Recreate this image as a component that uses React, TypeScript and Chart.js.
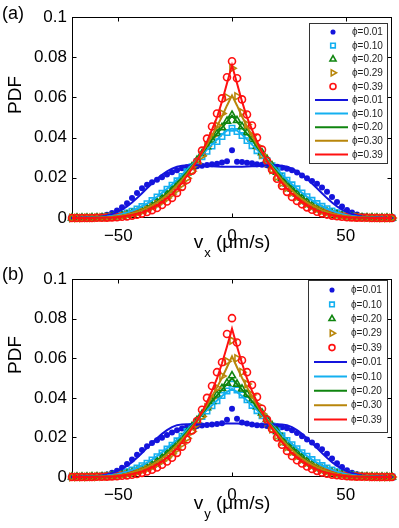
import React, { useEffect, useRef } from 'react';
import { Chart, registerables } from 'chart.js';
import { drawPoint } from 'chart.js/helpers';

Chart.register(...registerables);

// velocity bins (µm/s)
const velocityBins = [
  -70.4, -68.2, -66, -63.8, -61.6, -59.4, -57.2, -55, -52.8, -50.6, -48.4, -46.2, -44, -41.8, -39.6, -37.4,
  -35.2, -33, -30.8, -28.6, -26.4, -24.2, -22, -19.8, -17.6, -15.4, -13.2, -11, -8.8, -6.6, -4.4, -2.2,
  0,
  2.2, 4.4, 6.6, 8.8, 11, 13.2, 15.4, 17.6, 19.8, 22, 24.2, 26.4, 28.6, 30.8, 33,
  35.2, 37.4, 39.6, 41.8, 44, 46.2, 48.4, 50.6, 52.8, 55, 57.2, 59.4, 61.6, 63.8, 66, 68.2, 70.4,
];

const xTickValues = [-50, 0, 50];
const xTickLabels = ['\u221250', '0', '50'];
const yTickValues = [0, 0.02, 0.04, 0.06, 0.08, 0.1];
const yTickLabels = ['0', '0.02', '0.04', '0.06', '0.08', '0.1'];

const pointLegend = ['\u03d5=0.01', '\u03d5=0.10', '\u03d5=0.20', '\u03d5=0.29', '\u03d5=0.39'];
const fitLegend = ['\u03d5=0.01', '\u03d5=0.10', '\u03d5=0.20', '\u03d5=0.30', '\u03d5=0.39'];

const seriesColors = ['#1414dc', '#14b0f0', '#0f850f', '#b8860b', '#ff1010'];
const markerStyles = ['circle', 'rect', 'triangle', 'triangle', 'circle'];
const markerRotations = [0, 0, 0, 90, 0];
const markerRadii = [3, 3.8, 4.1, 4.1, 3.5];
const markerFilled = [true, false, false, false, false];

// ---------- panel (a): v_x ----------
const vxPhi001 = [
  0, 0, 0.0001, 0.0002, 0.0003, 0.0006, 0.001, 0.0016,
  0.0025, 0.0037, 0.0053, 0.0074, 0.0099, 0.0125, 0.0148, 0.0166,
  0.0178, 0.019, 0.0203, 0.0216, 0.0228, 0.0238, 0.0248, 0.0253,
  0.0255, 0.0257, 0.026, 0.0264, 0.0268, 0.027, 0.0276, 0.0282,
  0.0337,
  0.028, 0.0278, 0.0275, 0.0272, 0.0268, 0.0265, 0.0262, 0.0258,
  0.0255, 0.025, 0.0245, 0.0237, 0.0226, 0.0212, 0.0198, 0.0184,
  0.017, 0.0152, 0.013, 0.0104, 0.0079, 0.0057, 0.004, 0.0027,
  0.0017, 0.001, 0.0006, 0.0003, 0.0002, 0.0001, 0, 0,
];
const vxPhi010 = [
  0, 0, 0, 0.0001, 0.0001, 0.0002, 0.0003, 0.0005,
  0.0008, 0.0012, 0.0018, 0.0025, 0.0034, 0.0045, 0.0057, 0.0071,
  0.0087, 0.0105, 0.0123, 0.0143, 0.0163, 0.0185, 0.0207, 0.023,
  0.0255, 0.028, 0.0305, 0.0332, 0.0358, 0.038, 0.0405, 0.0425,
  0.0447,
  0.043, 0.041, 0.0385, 0.036, 0.0335, 0.031, 0.0285, 0.026,
  0.0235, 0.021, 0.0188, 0.0165, 0.0145, 0.0125, 0.0106, 0.0088,
  0.0072, 0.0058, 0.0046, 0.0035, 0.0026, 0.0019, 0.0013, 0.0009,
  0.0006, 0.0004, 0.0002, 0.0001, 0.0001, 0, 0, 0,
];
const vxPhi020 = [
  0, 0, 0, 0, 0.0001, 0.0001, 0.0002, 0.0003,
  0.0005, 0.0007, 0.0011, 0.0015, 0.0021, 0.0028, 0.0037, 0.0048,
  0.0062, 0.0078, 0.0096, 0.0117, 0.014, 0.0166, 0.0194, 0.0224,
  0.0255, 0.0287, 0.032, 0.0355, 0.0388, 0.042, 0.045, 0.0482,
  0.0512,
  0.0485, 0.0455, 0.0425, 0.0392, 0.0358, 0.0325, 0.0292, 0.026,
  0.0228, 0.0198, 0.017, 0.0144, 0.012, 0.0099, 0.008, 0.0064,
  0.005, 0.0039, 0.003, 0.0022, 0.0016, 0.0011, 0.0008, 0.0005,
  0.0003, 0.0002, 0.0001, 0.0001, 0, 0, 0, 0,
];
const vxPhi029 = [
  0, 0, 0, 0.0001, 0.0001, 0.0002, 0.0003, 0.0004,
  0.0005, 0.0007, 0.001, 0.0014, 0.0019, 0.0025, 0.0033, 0.0043,
  0.0054, 0.0067, 0.0082, 0.0099, 0.0119, 0.0142, 0.0168, 0.0198,
  0.0233, 0.027, 0.031, 0.0355, 0.0405, 0.046, 0.052, 0.06,
  0.0745,
  0.0605, 0.0525, 0.0465, 0.041, 0.036, 0.0315, 0.0275, 0.024,
  0.0205, 0.0175, 0.015, 0.0126, 0.0105, 0.0087, 0.0071, 0.0057,
  0.0045, 0.0035, 0.0027, 0.002, 0.0015, 0.0011, 0.0008, 0.0005,
  0.0004, 0.0003, 0.0002, 0.0001, 0.0001, 0, 0, 0,
];
const vxPhi039 = [
  0, 0, 0, 0, 0, 0.0001, 0.0001, 0.0002,
  0.0003, 0.0004, 0.0006, 0.0008, 0.0012, 0.0016, 0.0022, 0.003,
  0.0039, 0.005, 0.0065, 0.0082, 0.01, 0.0125, 0.0155, 0.019,
  0.0235, 0.028, 0.0335, 0.0395, 0.0455, 0.052, 0.0595, 0.07,
  0.078,
  0.0695, 0.059, 0.0515, 0.046, 0.04, 0.034, 0.0285, 0.024,
  0.0195, 0.016, 0.013, 0.0105, 0.0085, 0.0068, 0.0053, 0.0041,
  0.0031, 0.0023, 0.0017, 0.0012, 0.0009, 0.0006, 0.0004, 0.0003,
  0.0002, 0.0001, 0.0001, 0, 0, 0, 0, 0,
];
const vxFit001 = [
  0, 0, 0.0001, 0.0002, 0.0003, 0.0005, 0.0008, 0.0013,
  0.002, 0.003, 0.0042, 0.0058, 0.0077, 0.0099, 0.0123, 0.0148,
  0.0172, 0.0195, 0.0215, 0.0232, 0.0245, 0.0255, 0.026, 0.0262,
  0.0263, 0.0262, 0.026, 0.0258, 0.0257, 0.0256, 0.0255, 0.0255,
  0.0255,
  0.0255, 0.0255, 0.0256, 0.0257, 0.0258, 0.026, 0.0262, 0.0263,
  0.0262, 0.026, 0.0255, 0.0245, 0.0232, 0.0215, 0.0195, 0.0172,
  0.0148, 0.0123, 0.0099, 0.0077, 0.0058, 0.0042, 0.003, 0.002,
  0.0013, 0.0008, 0.0005, 0.0003, 0.0002, 0.0001, 0, 0,
];
const vxFit010 = [
  0, 0, 0.0001, 0.0001, 0.0002, 0.0003, 0.0005, 0.0007,
  0.001, 0.0014, 0.002, 0.0027, 0.0036, 0.0046, 0.0058, 0.0072,
  0.0088, 0.0106, 0.0125, 0.0145, 0.0167, 0.019, 0.0215, 0.024,
  0.0265, 0.029, 0.0315, 0.034, 0.0365, 0.039, 0.0415, 0.0435,
  0.0445,
  0.0435, 0.0415, 0.039, 0.0365, 0.034, 0.0315, 0.029, 0.0265,
  0.024, 0.0215, 0.019, 0.0167, 0.0145, 0.0125, 0.0106, 0.0088,
  0.0072, 0.0058, 0.0046, 0.0036, 0.0027, 0.002, 0.0014, 0.001,
  0.0007, 0.0005, 0.0003, 0.0002, 0.0001, 0.0001, 0, 0,
];
const vxFit020 = [
  0, 0, 0, 0, 0.0001, 0.0001, 0.0002, 0.0003,
  0.0005, 0.0008, 0.0011, 0.0016, 0.0022, 0.003, 0.004, 0.0051,
  0.0065, 0.0082, 0.0101, 0.0122, 0.0145, 0.017, 0.0198, 0.0228,
  0.0258, 0.0288, 0.032, 0.0355, 0.039, 0.042, 0.045, 0.048,
  0.051,
  0.048, 0.045, 0.042, 0.039, 0.0355, 0.032, 0.0288, 0.0258,
  0.0228, 0.0198, 0.017, 0.0145, 0.0122, 0.0101, 0.0082, 0.0065,
  0.0051, 0.004, 0.003, 0.0022, 0.0016, 0.0011, 0.0008, 0.0005,
  0.0003, 0.0002, 0.0001, 0.0001, 0, 0, 0, 0,
];
const vxFit030 = [
  0, 0, 0, 0.0001, 0.0001, 0.0002, 0.0003, 0.0004,
  0.0006, 0.0009, 0.0012, 0.0017, 0.0023, 0.003, 0.0039, 0.005,
  0.0063, 0.0078, 0.0095, 0.0115, 0.0138, 0.0163, 0.019, 0.022,
  0.0253, 0.0288, 0.0325, 0.0365, 0.041, 0.0455, 0.0505, 0.056,
  0.061,
  0.056, 0.0505, 0.0455, 0.041, 0.0365, 0.0325, 0.0288, 0.0253,
  0.022, 0.019, 0.0163, 0.0138, 0.0115, 0.0095, 0.0078, 0.0063,
  0.005, 0.0039, 0.003, 0.0023, 0.0017, 0.0012, 0.0009, 0.0006,
  0.0004, 0.0003, 0.0002, 0.0001, 0.0001, 0, 0, 0,
];
const vxFit039 = [
  0, 0, 0, 0, 0, 0.0001, 0.0001, 0.0002,
  0.0003, 0.0005, 0.0008, 0.0011, 0.0015, 0.0021, 0.0028, 0.0037,
  0.0048, 0.0062, 0.0078, 0.0098, 0.012, 0.0145, 0.0175, 0.021,
  0.0245, 0.0285, 0.033, 0.038, 0.044, 0.05, 0.058, 0.067,
  0.076,
  0.067, 0.058, 0.05, 0.044, 0.038, 0.033, 0.0285, 0.0245,
  0.021, 0.0175, 0.0145, 0.012, 0.0098, 0.0078, 0.0062, 0.0048,
  0.0037, 0.0028, 0.0021, 0.0015, 0.0011, 0.0008, 0.0005, 0.0003,
  0.0002, 0.0001, 0.0001, 0, 0, 0, 0, 0,
];

// ---------- panel (b): v_y ----------
const vyPhi001 = [
  0, 0, 0.0001, 0.0001, 0.0003, 0.0005, 0.0008, 0.0013,
  0.0021, 0.0032, 0.0047, 0.0066, 0.0089, 0.0113, 0.0136, 0.0156,
  0.0172, 0.0186, 0.0199, 0.0212, 0.0225, 0.0236, 0.0245, 0.0252,
  0.0256, 0.0258, 0.026, 0.0263, 0.0265, 0.0268, 0.0272, 0.029,
  0.0345,
  0.0295, 0.0275, 0.027, 0.0265, 0.0262, 0.026, 0.0258, 0.0256,
  0.0255, 0.0252, 0.0246, 0.0236, 0.0222, 0.0206, 0.019, 0.0174,
  0.0158, 0.014, 0.0118, 0.0094, 0.007, 0.005, 0.0034, 0.0022,
  0.0014, 0.0008, 0.0005, 0.0003, 0.0001, 0.0001, 0, 0,
];
const vyPhi010 = [
  0, 0, 0, 0.0001, 0.0001, 0.0002, 0.0004, 0.0006,
  0.0009, 0.0013, 0.0019, 0.0026, 0.0035, 0.0045, 0.0057, 0.007,
  0.0086, 0.0103, 0.0121, 0.0141, 0.0161, 0.0183, 0.0206, 0.023,
  0.0255, 0.028, 0.0306, 0.0333, 0.036, 0.0385, 0.0412, 0.0435,
  0.047,
  0.044, 0.0415, 0.039, 0.0362, 0.0335, 0.031, 0.0284, 0.0258,
  0.0233, 0.0208, 0.0185, 0.0163, 0.0143, 0.0123, 0.0105, 0.0088,
  0.0072, 0.0058, 0.0046, 0.0036, 0.0027, 0.002, 0.0014, 0.001,
  0.0006, 0.0004, 0.0002, 0.0001, 0.0001, 0, 0, 0,
];
const vyPhi020 = [
  0, 0, 0, 0, 0.0001, 0.0001, 0.0002, 0.0003,
  0.0005, 0.0007, 0.0011, 0.0015, 0.0021, 0.0029, 0.0038, 0.0049,
  0.0063, 0.0079, 0.0097, 0.0118, 0.0142, 0.0168, 0.0196, 0.0225,
  0.0255, 0.0286, 0.0318, 0.035, 0.0382, 0.0415, 0.0448, 0.0475,
  0.0512,
  0.047, 0.0445, 0.0418, 0.0388, 0.0356, 0.0324, 0.0292, 0.026,
  0.023, 0.02, 0.0172, 0.0146, 0.0122, 0.01, 0.0081, 0.0065,
  0.0051, 0.004, 0.003, 0.0022, 0.0016, 0.0011, 0.0008, 0.0005,
  0.0003, 0.0002, 0.0001, 0.0001, 0, 0, 0, 0,
];
const vyPhi029 = [
  0, 0, 0, 0, 0.0001, 0.0001, 0.0002, 0.0003,
  0.0005, 0.0007, 0.001, 0.0013, 0.0018, 0.0024, 0.0032, 0.0041,
  0.0052, 0.0065, 0.008, 0.0097, 0.0117, 0.014, 0.0166, 0.0196,
  0.023, 0.0266, 0.0306, 0.035, 0.0398, 0.045, 0.051, 0.0585,
  0.069,
  0.06, 0.053, 0.047, 0.0415, 0.0365, 0.032, 0.0278, 0.0242,
  0.0208, 0.0178, 0.0151, 0.0127, 0.0106, 0.0088, 0.0072, 0.0058,
  0.0046, 0.0036, 0.0028, 0.0021, 0.0015, 0.0011, 0.0008, 0.0005,
  0.0004, 0.0003, 0.0002, 0.0001, 0.0001, 0, 0, 0,
];
const vyPhi039 = [
  0, 0, 0, 0, 0, 0.0001, 0.0001, 0.0002,
  0.0003, 0.0004, 0.0006, 0.0008, 0.0011, 0.0015, 0.0021, 0.0028,
  0.0037, 0.0048, 0.0062, 0.0078, 0.0097, 0.0122, 0.0153, 0.019,
  0.0235, 0.0283, 0.034, 0.04, 0.046, 0.053, 0.058, 0.0723,
  0.0803,
  0.068, 0.059, 0.053, 0.0465, 0.0405, 0.0345, 0.029, 0.0243,
  0.02, 0.0163, 0.0132, 0.0106, 0.0085, 0.0068, 0.0053, 0.0041,
  0.0031, 0.0023, 0.0017, 0.0012, 0.0009, 0.0006, 0.0004, 0.0003,
  0.0002, 0.0001, 0.0001, 0, 0, 0, 0, 0,
];
const vyFit001 = [
  0, 0, 0.0001, 0.0002, 0.0003, 0.0005, 0.0008, 0.0013,
  0.002, 0.0029, 0.0041, 0.0056, 0.0075, 0.0097, 0.0121, 0.0147,
  0.0172, 0.0196, 0.0218, 0.0237, 0.0252, 0.0262, 0.0266, 0.0267,
  0.0266, 0.0265, 0.0265, 0.0266, 0.0267, 0.0268, 0.0269, 0.027,
  0.027,
  0.027, 0.0269, 0.0268, 0.0267, 0.0266, 0.0265, 0.0265, 0.0266,
  0.0267, 0.0266, 0.0262, 0.0252, 0.0237, 0.0218, 0.0196, 0.0172,
  0.0147, 0.0121, 0.0097, 0.0075, 0.0056, 0.0041, 0.0029, 0.002,
  0.0013, 0.0008, 0.0005, 0.0003, 0.0002, 0.0001, 0, 0,
];
const vyFit010 = [
  0, 0, 0.0001, 0.0001, 0.0002, 0.0003, 0.0005, 0.0007,
  0.001, 0.0014, 0.002, 0.0027, 0.0036, 0.0046, 0.0058, 0.0072,
  0.0088, 0.0106, 0.0125, 0.0145, 0.0166, 0.0189, 0.0213, 0.0238,
  0.0263, 0.0288, 0.0313, 0.0338, 0.0363, 0.0387, 0.041, 0.043,
  0.0445,
  0.043, 0.041, 0.0387, 0.0363, 0.0338, 0.0313, 0.0288, 0.0263,
  0.0238, 0.0213, 0.0189, 0.0166, 0.0145, 0.0125, 0.0106, 0.0088,
  0.0072, 0.0058, 0.0046, 0.0036, 0.0027, 0.002, 0.0014, 0.001,
  0.0007, 0.0005, 0.0003, 0.0002, 0.0001, 0.0001, 0, 0,
];
const vyFit020 = [
  0, 0, 0, 0, 0.0001, 0.0001, 0.0002, 0.0003,
  0.0005, 0.0008, 0.0011, 0.0016, 0.0022, 0.003, 0.004, 0.0051,
  0.0065, 0.0082, 0.0101, 0.0122, 0.0145, 0.017, 0.0198, 0.0228,
  0.0258, 0.0288, 0.032, 0.0352, 0.0384, 0.0413, 0.0442, 0.047,
  0.05,
  0.047, 0.0442, 0.0413, 0.0384, 0.0352, 0.032, 0.0288, 0.0258,
  0.0228, 0.0198, 0.017, 0.0145, 0.0122, 0.0101, 0.0082, 0.0065,
  0.0051, 0.004, 0.003, 0.0022, 0.0016, 0.0011, 0.0008, 0.0005,
  0.0003, 0.0002, 0.0001, 0.0001, 0, 0, 0, 0,
];
const vyFit030 = [
  0, 0, 0, 0.0001, 0.0001, 0.0002, 0.0003, 0.0004,
  0.0006, 0.0009, 0.0012, 0.0017, 0.0023, 0.003, 0.0039, 0.005,
  0.0063, 0.0078, 0.0095, 0.0115, 0.0138, 0.0163, 0.019, 0.022,
  0.0252, 0.0287, 0.0324, 0.0364, 0.0408, 0.0453, 0.0502, 0.0555,
  0.061,
  0.0555, 0.0502, 0.0453, 0.0408, 0.0364, 0.0324, 0.0287, 0.0252,
  0.022, 0.019, 0.0163, 0.0138, 0.0115, 0.0095, 0.0078, 0.0063,
  0.005, 0.0039, 0.003, 0.0023, 0.0017, 0.0012, 0.0009, 0.0006,
  0.0004, 0.0003, 0.0002, 0.0001, 0.0001, 0, 0, 0,
];
const vyFit039 = [
  0, 0, 0, 0, 0, 0.0001, 0.0001, 0.0002,
  0.0003, 0.0005, 0.0008, 0.0011, 0.0015, 0.0021, 0.0028, 0.0037,
  0.0048, 0.0062, 0.0078, 0.0098, 0.012, 0.0146, 0.0176, 0.021,
  0.0245, 0.0284, 0.0328, 0.0378, 0.0435, 0.0498, 0.0575, 0.066,
  0.075,
  0.066, 0.0575, 0.0498, 0.0435, 0.0378, 0.0328, 0.0284, 0.0245,
  0.021, 0.0176, 0.0146, 0.012, 0.0098, 0.0078, 0.0062, 0.0048,
  0.0037, 0.0028, 0.0021, 0.0015, 0.0011, 0.0008, 0.0005, 0.0003,
  0.0002, 0.0001, 0.0001, 0, 0, 0, 0, 0,
];

const FONT = '"Liberation Sans", Arial, Helvetica, sans-serif';
const W = 399;
const H = 264;

type Panel = {
  tag: string;
  sub: string;
  points: number[][];
  fits: number[][];
  plotTop: number;
  plotBottom: number;
  tagBaseline: number;
  titleBaseline: number;
  pdfCenter: number;
  legend: { x: number; y: number; w: number; h: number; row0: number; dy: number };
};

const panels: Panel[] = [
  {
    tag: '(a)', sub: 'x',
    points: [vxPhi001, vxPhi010, vxPhi020, vxPhi029, vxPhi039],
    fits: [vxFit001, vxFit010, vxFit020, vxFit030, vxFit039],
    plotTop: 17, plotBottom: 218, tagBaseline: 19, titleBaseline: 248, pdfCenter: 95,
    legend: { x: 309, y: 23, w: 78, h: 140, row0: 32, dy: 13.6 },
  },
  {
    tag: '(b)', sub: 'y',
    points: [vyPhi001, vyPhi010, vyPhi020, vyPhi029, vyPhi039],
    fits: [vyFit001, vyFit010, vyFit020, vyFit030, vyFit039],
    plotTop: 13, plotBottom: 213, tagBaseline: 16, titleBaseline: 245, pdfCenter: 91,
    legend: { x: 308, y: 16, w: 79, h: 152, row0: 26, dy: 14.4 },
  },
];

function makeDecor(panel: Panel) {
  return {
    id: 'decor',
    beforeDatasetsDraw(chart: any) {
      const { ctx, chartArea: a, scales } = chart;
      ctx.save();
      ctx.strokeStyle = '#000';
      ctx.lineWidth = 1;
      const L = Math.round(a.left) + 0.5, R = Math.round(a.right) - 0.5;
      const T = Math.round(a.top) + 0.5, B = Math.round(a.bottom) - 0.5;
      ctx.strokeRect(L, T, R - L, B - T);
      ctx.beginPath();
      for (const v of xTickValues) {
        const px = Math.round(scales.x.getPixelForValue(v)) + 0.5;
        ctx.moveTo(px, B); ctx.lineTo(px, B - 4);
        ctx.moveTo(px, T); ctx.lineTo(px, T + 4);
      }
      for (const v of yTickValues) {
        const py = Math.round(scales.y.getPixelForValue(v)) + 0.5;
        ctx.moveTo(L, py); ctx.lineTo(L + 4, py);
        ctx.moveTo(R, py); ctx.lineTo(R - 4, py);
      }
      ctx.stroke();
      ctx.restore();
    },
    afterDraw(chart: any) {
      const { ctx, chartArea: a } = chart;
      ctx.save();
      // legend
      const lg = panel.legend;
      ctx.fillStyle = '#fff';
      ctx.fillRect(lg.x, lg.y, lg.w, lg.h);
      ctx.strokeStyle = '#333';
      ctx.lineWidth = 1;
      ctx.strokeRect(lg.x + 0.5, lg.y + 0.5, lg.w, lg.h);
      ctx.font = '10px ' + FONT;
      ctx.textAlign = 'left';
      ctx.textBaseline = 'middle';
      for (let i = 0; i < 10; i++) {
        const y = lg.row0 + i * lg.dy;
        const s = i % 5;
        if (i < 5) {
          ctx.strokeStyle = seriesColors[s];
          ctx.fillStyle = markerFilled[s] ? seriesColors[s] : 'rgba(0,0,0,0)';
          ctx.lineWidth = 1.6;
          drawPoint(ctx, {
            pointStyle: markerStyles[s], rotation: markerRotations[s],
            radius: markerRadii[s] * 0.85, borderWidth: markerFilled[s] ? 0 : 1.6,
          } as any, lg.x + 24, y);
        } else {
          ctx.strokeStyle = seriesColors[s];
          ctx.lineWidth = 2;
          ctx.beginPath();
          ctx.moveTo(lg.x + 6, y);
          ctx.lineTo(lg.x + 39, y);
          ctx.stroke();
        }
        ctx.fillStyle = '#222';
        ctx.fillText(i < 5 ? pointLegend[s] : fitLegend[s], lg.x + 43, y + 0.5);
      }
      // panel tag
      ctx.fillStyle = '#000';
      ctx.font = '18px ' + FONT;
      ctx.textBaseline = 'alphabetic';
      ctx.fillText(panel.tag, 2, panel.tagBaseline);
      // y title
      ctx.save();
      ctx.translate(16, panel.pdfCenter);
      ctx.rotate(-Math.PI / 2);
      ctx.textAlign = 'center';
      ctx.textBaseline = 'middle';
      ctx.font = '19px ' + FONT;
      ctx.fillText('PDF', 0, 0);
      ctx.restore();
      // x title with subscript
      const mainFont = '19px ' + FONT;
      const subFont = '13px ' + FONT;
      ctx.font = mainFont;
      const w1 = ctx.measureText('v').width;
      const w3 = ctx.measureText(' (\u03bcm/s)').width;
      ctx.font = subFont;
      const w2 = ctx.measureText(panel.sub).width;
      const total = w1 + w2 + 1 + w3;
      let x = (a.left + a.right) / 2 - total / 2;
      ctx.textAlign = 'left';
      ctx.font = mainFont;
      ctx.fillText('v', x, panel.titleBaseline);
      x += w1 + 1;
      ctx.font = subFont;
      ctx.fillText(panel.sub, x, panel.titleBaseline + 9);
      x += w2;
      ctx.font = mainFont;
      ctx.fillText(' (\u03bcm/s)', x, panel.titleBaseline);
      ctx.restore();
    },
  };
}

function PanelChart({ panel }: { panel: Panel }) {
  const ref = useRef<HTMLCanvasElement>(null);
  useEffect(() => {
    const canvas = ref.current!;
    const datasets: any[] = [];
    panel.points.forEach((arr, i) => {
      datasets.push({
        label: pointLegend[i],
        data: velocityBins.map((v, j) => ({ x: v, y: arr[j] })),
        showLine: false,
        pointStyle: markerStyles[i],
        pointRotation: markerRotations[i],
        pointRadius: markerRadii[i],
        pointBorderWidth: markerFilled[i] ? 0 : 1.6,
        pointBorderColor: seriesColors[i],
        pointBackgroundColor: markerFilled[i] ? seriesColors[i] : 'rgba(0,0,0,0)',
        borderColor: seriesColors[i],
        backgroundColor: markerFilled[i] ? seriesColors[i] : 'rgba(0,0,0,0)',
        order: 10 - i,
        clip: false,
      });
    });
    panel.fits.forEach((arr, i) => {
      datasets.push({
        label: fitLegend[i],
        data: velocityBins.map((v, j) => ({ x: v, y: arr[j] })),
        showLine: true,
        borderColor: seriesColors[i],
        backgroundColor: seriesColors[i],
        borderWidth: 2,
        pointRadius: 0,
        tension: 0,
        order: 5 - i,
        clip: 2,
      });
    });
    const chart = new Chart(canvas, {
      type: 'scatter',
      data: { datasets },
      options: {
        responsive: false,
        animation: false,
        devicePixelRatio: 1,
        events: [],
        layout: { padding: { top: panel.plotTop, right: W - 392, left: 0, bottom: 0 } },
        plugins: { legend: { display: false }, tooltip: { enabled: false } },
        scales: {
          x: {
            type: 'linear',
            min: -70.4,
            max: 70.4,
            grid: { display: false, drawTicks: false },
            border: { display: false },
            afterBuildTicks: (s: any) => { s.ticks = xTickValues.map((v) => ({ value: v })); },
            afterFit: (s: any) => { s.height = H - panel.plotBottom; },
            ticks: {
              autoSkip: false,
              maxRotation: 0,
              padding: 8,
              color: '#000',
              font: { family: FONT, size: 17 },
              callback: (v: any) => xTickLabels[xTickValues.indexOf(Number(v))] ?? '',
            },
          },
          y: {
            type: 'linear',
            min: 0,
            max: 0.1,
            grid: { display: false, drawTicks: false },
            border: { display: false },
            afterBuildTicks: (s: any) => { s.ticks = yTickValues.map((v) => ({ value: v })); },
            afterFit: (s: any) => { s.width = 72; },
            ticks: {
              autoSkip: false,
              padding: 5,
              color: '#000',
              font: { family: FONT, size: 17 },
              callback: (v: any) => {
                const idx = yTickValues.findIndex((t) => Math.abs(t - Number(v)) < 1e-9);
                return idx >= 0 ? yTickLabels[idx] : '';
              },
            },
          },
        },
      },
      plugins: [makeDecor(panel)],
    } as any);
    return () => chart.destroy();
  }, [panel]);
  return <canvas ref={ref} width={W} height={H} style={{ display: 'block', width: W, height: H }} />;
}

export default function App() {
  useEffect(() => {
    document.body.style.margin = '0';
  }, []);
  return (
    <div style={{ position: 'absolute', left: 0, top: 0, width: W, height: 2 * H, background: '#fff' }}>
      {panels.map((p) => (
        <PanelChart key={p.tag} panel={p} />
      ))}
    </div>
  );
}
